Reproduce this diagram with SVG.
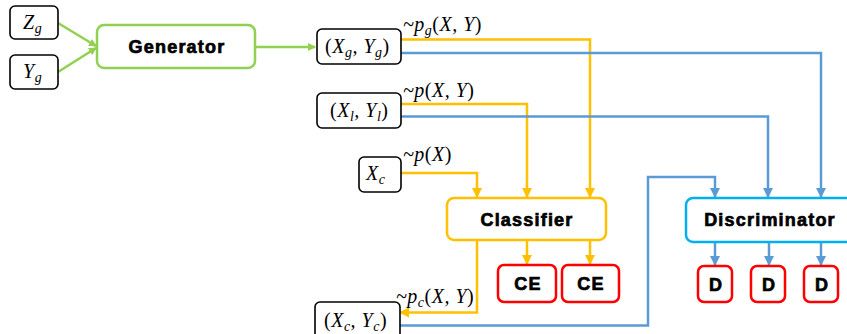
<svg xmlns="http://www.w3.org/2000/svg" width="847" height="334" viewBox="0 0 847 334">
<style>
.in{fill:#fff;stroke:#000;stroke-width:1.6}
.m{font-family:"Liberation Serif","DejaVu Serif",serif;font-style:italic;font-size:20px;fill:#000;letter-spacing:0.5px}
.mu{font-style:normal}
.sub{font-size:14px}
.b{font-family:"Liberation Sans",Arial,sans-serif;font-weight:bold;font-size:18px;fill:#000;stroke:#000;stroke-width:0.7;letter-spacing:1.2px;text-anchor:middle}
.g{fill:none;stroke:#92D050;stroke-width:2.5}
.y{fill:none;stroke:#FFC000;stroke-width:2.5}
.bl{fill:none;stroke:#5B9BD5;stroke-width:2.5}
.red{fill:#fff;stroke:#FF0000;stroke-width:2.5}
</style>
<defs>
<marker id="ag" markerWidth="8" markerHeight="8" refX="7" refY="4" orient="auto" markerUnits="userSpaceOnUse" viewBox="0 0 8 8"><path d="M0,0 L8,4 L0,8 z" fill="#92D050"/></marker>
<marker id="ay" markerWidth="10" markerHeight="10" refX="9" refY="5" orient="auto" markerUnits="userSpaceOnUse" viewBox="0 0 10 10"><path d="M0,0 L10,5 L0,10 z" fill="#FFC000"/></marker>
<marker id="ab" markerWidth="10" markerHeight="10" refX="9" refY="5" orient="auto" markerUnits="userSpaceOnUse" viewBox="0 0 10 10"><path d="M0,0 L10,5 L0,10 z" fill="#5B9BD5"/></marker>
</defs>

<g id="connectors">
<path class="g" d="M58,23 L96,46" marker-end="url(#ag)"/>
<path class="g" d="M58,72 L96,48" marker-end="url(#ag)"/>
<path class="g" d="M255,47 L315,47" marker-end="url(#ag)"/>
<path class="y" d="M401,39.5 H590 V197" marker-end="url(#ay)"/>
<path class="bl" d="M401,53 H821 V197" marker-end="url(#ab)"/>
<path class="y" d="M401,104 H527 V197" marker-end="url(#ay)"/>
<path class="bl" d="M401,116.5 H768 V197" marker-end="url(#ab)"/>
<path class="y" d="M401,173 H477 V197" marker-end="url(#ay)"/>
<path class="y" d="M527,240 V264" marker-end="url(#ay)"/>
<path class="y" d="M590,240 V264" marker-end="url(#ay)"/>
<path class="y" d="M477,240 V312.5 H400" marker-end="url(#ay)"/>
<path class="bl" d="M400,325.5 H648 V177 H715 V197" marker-end="url(#ab)"/>
<path class="bl" d="M715,242 V265" marker-end="url(#ab)"/>
<path class="bl" d="M769,242 V265" marker-end="url(#ab)"/>
<path class="bl" d="M821,242 V265" marker-end="url(#ab)"/>
</g>

<g id="Zg"><rect class="in" x="10" y="6" width="48" height="33" rx="5"/><text class="m" x="23" y="29">Z<tspan class="sub" dy="4">g</tspan></text></g>
<g id="Yg"><rect class="in" x="10" y="55" width="48" height="34" rx="5"/><text class="m" x="23" y="78">Y<tspan class="sub" dy="4">g</tspan></text></g>
<g id="Generator"><rect x="97" y="25" width="158" height="43" rx="7" fill="#fff" stroke="#92D050" stroke-width="2.5"/><text class="b" x="177" y="53">Generator</text></g>

<g id="XgYg"><rect class="in" x="317" y="29" width="84" height="35" rx="5"/><text class="m" x="325" y="53"><tspan class="mu">(</tspan>X<tspan class="sub" dy="4">g</tspan><tspan dy="-4">, </tspan>Y<tspan class="sub" dy="4">g</tspan><tspan class="mu" dy="-4">)</tspan></text></g>
<text class="m" x="403" y="31">~p<tspan class="sub" dy="4">g</tspan><tspan dy="-4"><tspan class="mu">(</tspan>X, Y<tspan class="mu">)</tspan></tspan></text>

<g id="XlYl"><rect class="in" x="317" y="93" width="84" height="35" rx="5"/><text class="m" x="330" y="117"><tspan class="mu">(</tspan>X<tspan class="sub" dy="4">l</tspan><tspan dy="-4">, </tspan>Y<tspan class="sub" dy="4">l</tspan><tspan class="mu" dy="-4">)</tspan></text></g>
<text class="m" x="403" y="97">~p<tspan class="mu">(</tspan>X, Y<tspan class="mu">)</tspan></text>

<g id="Xc"><rect class="in" x="359" y="157" width="42" height="35" rx="5"/><text class="m" x="366" y="180">X<tspan class="sub" dy="4">c</tspan></text></g>
<text class="m" x="403" y="161">~p<tspan class="mu">(</tspan>X<tspan class="mu">)</tspan></text>

<g id="Classifier"><rect x="447" y="198" width="159" height="42" rx="7" fill="#fff" stroke="#FFC000" stroke-width="2.5"/><text class="b" x="527" y="226">Classifier</text></g>
<g id="CE1"><rect class="red" x="498" y="265" width="58" height="37" rx="6"/><text class="b" x="528" y="290">CE</text></g>
<g id="CE2"><rect class="red" x="562" y="265" width="57" height="37" rx="6"/><text class="b" x="591" y="290">CE</text></g>

<g id="XcYc"><rect class="in" x="315" y="302" width="85" height="40" rx="5"/><text class="m" x="324" y="327"><tspan class="mu">(</tspan>X<tspan class="sub" dy="4">c</tspan><tspan dy="-4">, </tspan>Y<tspan class="sub" dy="4">c</tspan><tspan class="mu" dy="-4">)</tspan></text></g>
<text class="m" x="396" y="303">~p<tspan class="sub" dy="4">c</tspan><tspan dy="-4"><tspan class="mu">(</tspan>X, Y<tspan class="mu">)</tspan></tspan></text>

<g id="Discriminator"><rect x="686" y="198" width="170" height="44" rx="7" fill="#fff" stroke="#00B0F0" stroke-width="2.5"/><text class="b" x="770" y="226">Discriminator</text></g>
<g id="D1"><rect class="red" x="698" y="266" width="34" height="36" rx="6"/><text class="b" x="716" y="291">D</text></g>
<g id="D2"><rect class="red" x="751" y="266" width="34" height="36" rx="6"/><text class="b" x="769" y="291">D</text></g>
<g id="D3"><rect class="red" x="804" y="266" width="34" height="36" rx="6"/><text class="b" x="822" y="291">D</text></g>
</svg>
